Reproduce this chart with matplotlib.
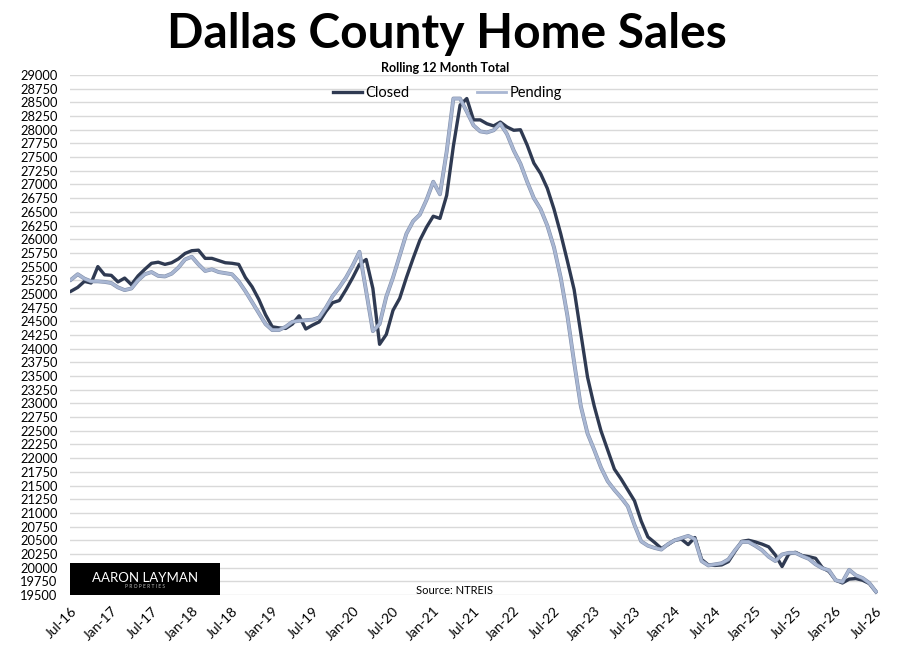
import matplotlib
matplotlib.use("Agg")
import matplotlib.pyplot as plt
import matplotlib.patheffects as pe
from matplotlib.patches import Rectangle

# monthly rolling 12-month totals, Jul-16 .. Jul-26
closed = [
    25050, 25120, 25230, 25200, 25500, 25350, 25340, 25220, 25290, 25170,
    25330, 25450, 25560, 25580, 25540, 25570, 25640, 25740, 25790, 25800,
    25650, 25650, 25610, 25570, 25560, 25540, 25300, 25130, 24900, 24620,
    24400, 24380, 24370, 24450, 24600, 24360, 24430, 24490, 24680, 24840,
    24880, 25080, 25300, 25540, 25630, 25100, 24080, 24260, 24700, 24920,
    25300, 25650, 25980, 26220, 26420, 26380, 26800, 27700, 28450, 28570,
    28180, 28180, 28110, 28070, 28140, 28050, 27990, 28000, 27720, 27390,
    27200, 26930, 26550, 26100, 25600, 25080, 24280, 23480, 22950, 22500,
    22150, 21800, 21620, 21420, 21220, 20850, 20560, 20460, 20350, 20420,
    20500, 20520, 20420, 20550, 20150, 20050, 20040, 20050, 20110, 20300,
    20480, 20500, 20470, 20430, 20380, 20230, 20020, 20250, 20280, 20220,
    20200, 20170, 20000, 19930, 19770, 19720, 19790, 19800, 19770, 19710,
    19560,
]
pending = [
    25260, 25360, 25280, 25230, 25230, 25220, 25200, 25120, 25070, 25100,
    25250, 25360, 25400, 25330, 25320, 25370, 25480, 25630, 25680, 25540,
    25420, 25450, 25400, 25380, 25360, 25230, 25050, 24850, 24650, 24450,
    24340, 24340, 24400, 24490, 24510, 24520, 24530, 24570, 24750, 24960,
    25120, 25300, 25520, 25770, 25050, 24320, 24450, 24950, 25300, 25700,
    26100, 26330, 26450, 26720, 27050, 26820, 27600, 28570, 28570, 28330,
    28080, 27970, 27950, 27990, 28110, 27920, 27620, 27380, 27050, 26750,
    26550, 26250, 25850, 25300, 24600, 23750, 22950, 22450, 22150, 21830,
    21580, 21420, 21280, 21120, 20780, 20480, 20400, 20360, 20330, 20430,
    20500, 20540, 20580, 20520, 20120, 20040, 20060, 20080, 20150, 20320,
    20470, 20470, 20400, 20320, 20200, 20120, 20240, 20270, 20270, 20210,
    20160, 20060, 19990, 19950, 19770, 19740, 19960, 19860, 19810, 19720,
    19560,
]
tick_labels = [
    "Jul-16", "Jan-17", "Jul-17", "Jan-18", "Jul-18", "Jan-19", "Jul-19",
    "Jan-20", "Jul-20", "Jan-21", "Jul-21", "Jan-22", "Jul-22", "Jan-23",
    "Jul-23", "Jan-24", "Jul-24", "Jan-25", "Jul-25", "Jan-26", "Jul-26",
]

plt.rcParams["font.family"] = ["Lato", "DejaVu Sans"]

fig = plt.figure(figsize=(9, 6.56), dpi=100)
ax = fig.add_axes([70 / 900, 1 - 595 / 656, 808 / 900, 520 / 656])

months = list(range(len(closed)))
ax.plot(months, closed, color="#2f3a52", linewidth=2.4, label="Closed", zorder=3,
        solid_joinstyle="round")
ax.plot(months, pending, color="#a9b7d3", linewidth=2.0, label="Pending", zorder=4,
        solid_joinstyle="round",
        path_effects=[pe.Stroke(linewidth=2.8, foreground="#8290ab"), pe.Normal()])

ax.set_ylim(19500, 29000)
ax.set_xlim(-0.15, 120.3)
ax.set_yticks(range(19500, 29001, 250))
ax.set_xticks(range(0, 121, 6))
ax.set_xticklabels(tick_labels, rotation=45, ha="right", rotation_mode="anchor", fontsize=10)
ax.tick_params(axis="y", labelsize=9.3, length=0, pad=9)
ax.tick_params(axis="x", length=0, pad=7)
ax.grid(axis="y", color="#d9d9d9", linewidth=1)
ax.set_axisbelow(True)
for s in ax.spines.values():
    s.set_visible(False)

fig.text(0.497, 0.948, "Dallas County Home Sales", ha="center", va="center",
         fontsize=34.5, fontweight="bold")
fig.text(0.495, 0.897, "Rolling 12 Month Total", ha="center", va="center",
         fontsize=9, fontweight="bold")
leg = fig.legend(loc="center", bbox_to_anchor=(0.497, 1 - 93 / 656), ncol=2, frameon=False,
                 fontsize=10.5, handlelength=2.0, columnspacing=4.6, handletextpad=0.25)
leg.legend_handles[1].set_path_effects([])

# logo box and source
fig.patches.append(Rectangle((70 / 900, 1 - 595 / 656), 150 / 900, 32 / 656,
                             transform=fig.transFigure, facecolor="black", zorder=5))
fig.text(145 / 900, 1 - 578 / 656, "AARON LAYMAN", ha="center", va="center",
         color="white", fontsize=9.5, zorder=6)
fig.text(145 / 900, 1 - 586 / 656, "P R O P E R T I E S", ha="center", va="center",
         color="#bbbbbb", fontsize=3.5, zorder=6)
fig.text(455 / 900, 1 - 590 / 656, "Source: NTREIS", ha="center", va="center", fontsize=8)

fig.savefig("out.png", dpi=100)
